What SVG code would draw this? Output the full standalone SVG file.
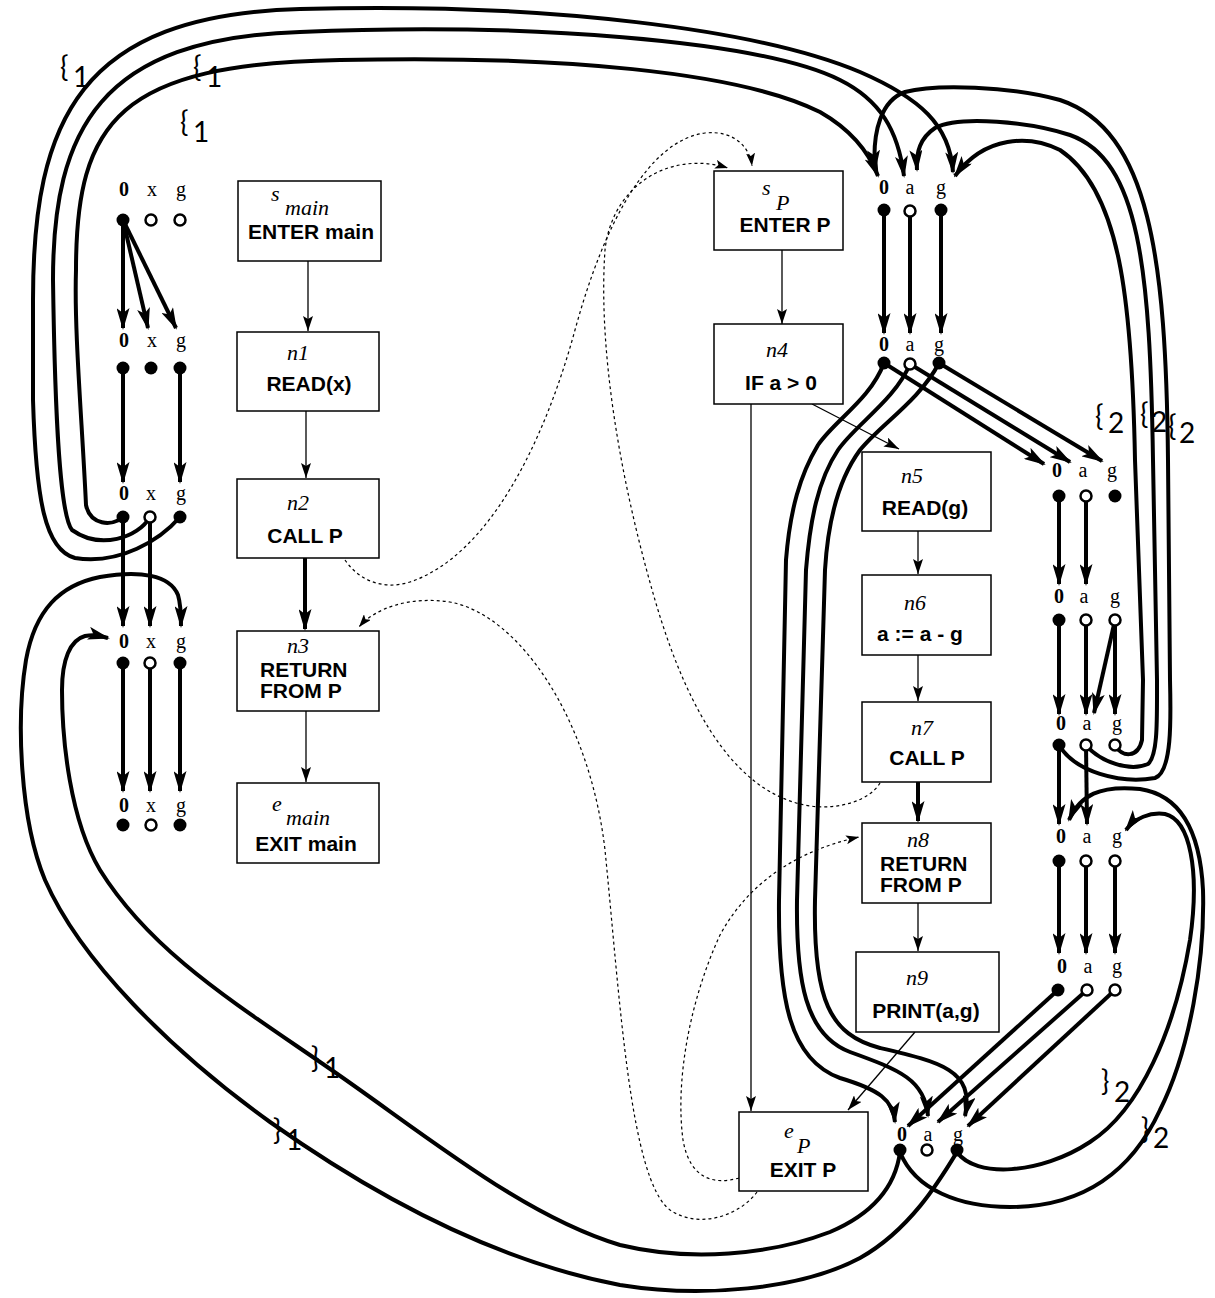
<svg xmlns="http://www.w3.org/2000/svg" width="1215" height="1298" viewBox="0 0 1215 1298">
<style>
.ex{fill:none;stroke:#000;stroke-width:4;marker-end:url(#ah)}
.fl{fill:none;stroke:#000;stroke-width:1.3;marker-end:url(#th)}
.fk{fill:none;stroke:#000;stroke-width:4;marker-end:url(#ah)}
.ds{fill:none;stroke:#000;stroke-width:1.2;stroke-dasharray:3,3;marker-end:url(#dh)}
.box{fill:#fff;stroke:#000;stroke-width:1.5}
.f{fill:#000}
.o{fill:#fff;stroke:#000;stroke-width:2.5}
.lb{font-family:"Liberation Serif",serif;font-size:20px;text-anchor:middle}
.lb0{font-family:"Liberation Serif",serif;font-size:20px;font-weight:bold;text-anchor:middle}
.it{font-family:"Liberation Serif",serif;font-style:italic;font-size:22px}
.bt{font-family:"Liberation Sans",Arial,sans-serif;font-weight:bold;font-size:21px}
.br{font-family:"Lato","Open Sans",sans-serif;font-size:28px}
</style>
<defs>
<marker id="ah" markerUnits="userSpaceOnUse" viewBox="0 0 22 13" refX="20" refY="6.5" markerWidth="22" markerHeight="13" orient="auto"><path d="M0,0 L22,6.5 L0,13 L5,6.5 z"/></marker>
<marker id="th" markerUnits="userSpaceOnUse" viewBox="0 0 15 10" refX="15" refY="5" markerWidth="15" markerHeight="10" orient="auto"><path d="M0,0 L15,5 L0,10 L3,5 z"/></marker>
<marker id="dh" markerUnits="userSpaceOnUse" viewBox="0 0 13 9" refX="13" refY="4.5" markerWidth="13" markerHeight="9" orient="auto"><path d="M0,0 L13,4.5 L0,9 L3,4.5 z"/></marker>
</defs>
<rect width="1215" height="1298" fill="#fff"/>
<g id="connectors">
<path class="fl" d="M308,261 L308,331"/>
<path class="fl" d="M306,411 L306,478"/>
<path class="fk" d="M305,558 L305,629"/>
<path class="fl" d="M306,711 L306,782"/>
<path class="fl" d="M782,250 L782,324"/>
<path class="fl" d="M812,404 L899,449"/>
<path class="fl" d="M751,404 L751,1111"/>
<path class="fl" d="M918,531 L918,574"/>
<path class="fl" d="M918,655 L918,701"/>
<path class="fk" d="M918,782 L918,821"/>
<path class="fl" d="M918,903 L918,951"/>
<path class="fl" d="M915,1032 L848,1110"/>
<path class="ds" d="M345,560 C360,582 385,590 410,582 C490,555 545,440 575,330 C605,220 650,140 705,133 C735,130 750,148 752,166"/>
<path class="ds" d="M880,783 C870,800 840,810 810,806 C740,795 690,720 655,600 C620,480 598,350 605,250 C612,185 670,150 728,168"/>
<path class="ds" d="M757,1192 C740,1215 700,1230 670,1210 C630,1180 620,1000 605,850 C590,720 520,615 450,602 C410,596 375,608 359,627"/>
<path class="ds" d="M739,1178 C715,1185 690,1180 683,1140 C675,1080 690,1000 720,935 C750,880 800,850 859,837"/>
<path class="ex" d="M123,220 L123,328"/>
<path class="ex" d="M123,220 L148,328"/>
<path class="ex" d="M123,220 L176,328"/>
<path class="ex" d="M123,368 L123,482"/>
<path class="ex" d="M180,368 L180,482"/>
<path class="ex" d="M123,517 L123,626"/>
<path class="ex" d="M150,517 L150,626"/>
<path class="ex" d="M123,663 L123,791"/>
<path class="ex" d="M150,663 L150,791"/>
<path class="ex" d="M180,663 L180,791"/>
<path class="ex" d="M884,210 L884,333"/>
<path class="ex" d="M910,211 L910,333"/>
<path class="ex" d="M941,210 L941,333"/>
<path class="ex" d="M884,363 L1044,464"/>
<path class="ex" d="M910,364 L1070,462"/>
<path class="ex" d="M939,363 L1102,461"/>
<path class="ex" d="M1059,496 L1059,584"/>
<path class="ex" d="M1086,496 L1086,584"/>
<path class="ex" d="M1059,620 L1059,714"/>
<path class="ex" d="M1086,620 L1086,714"/>
<path class="ex" d="M1115,620 L1115,714"/>
<path class="ex" d="M1115,620 L1094,713"/>
<path class="ex" d="M1059,745 L1059,824"/>
<path class="ex" d="M1086,745 L1087,824"/>
<path class="ex" d="M1059,861 L1059,953"/>
<path class="ex" d="M1086,861 L1086,953"/>
<path class="ex" d="M1115,861 L1115,953"/>
<path class="ex" d="M1058,990 L908,1126"/>
<path class="ex" d="M1087,990 L938,1122"/>
<path class="ex" d="M1115,990 L968,1126"/>
<path class="ex" d="M884,363 C870,400 835,420 818,445 C800,475 790,510 786,560 L779,900 C778,1000 790,1060 840,1078 C880,1090 893,1100 895,1122"/>
<path class="ex" d="M910,364 C895,400 855,425 838,450 C818,480 810,520 806,570 L797,900 C796,980 805,1035 850,1052 C900,1070 925,1080 928,1116"/>
<path class="ex" d="M939,363 C920,400 880,425 860,450 C838,480 828,520 825,570 L815,900 C813,1000 830,1035 880,1048 C940,1062 975,1070 965,1116"/>
<path class="ex" d="M123,517 C112,527 90,525 86,505 C82,420 74,330 76,270 C76,120 120,64 340,60 C560,55 740,72 820,112 C848,128 868,150 878,176"/>
<path class="ex" d="M150,517 C138,538 100,550 72,530 C60,515 55,420 53,280 C53,130 100,38 300,32 C520,22 760,40 840,80 C880,100 898,130 904,176"/>
<path class="ex" d="M180,517 C160,540 120,565 75,558 C45,550 36,500 33,400 L33,300 C33,120 80,15 300,9 C550,2 760,30 860,72 C920,98 950,125 953,172"/>
<path class="ex" d="M1059,745 C1075,772 1120,784 1155,778 C1172,772 1171,720 1170,680 L1168,460 C1166,260 1150,130 1060,100 C1010,86 935,84 905,92 C882,100 872,130 875,170"/>
<path class="ex" d="M1086,745 C1100,762 1130,772 1148,764 C1158,755 1157,720 1157,680 L1153,460 C1150,270 1140,160 1070,135 C1030,122 960,115 935,128 C920,138 916,152 917,170"/>
<path class="ex" d="M1115,745 C1122,758 1138,758 1142,740 L1143,680 L1135,460 C1132,300 1120,190 1060,150 C1030,135 985,135 955,176"/>
<path class="ex" d="M900,1152 C915,1190 960,1207 1010,1207 C1080,1207 1130,1175 1160,1110 C1190,1050 1205,960 1203,890 C1200,830 1180,795 1140,789 C1100,785 1080,795 1069,820"/>
<path class="ex" d="M957,1152 C975,1178 1040,1175 1090,1142 C1140,1110 1175,1030 1190,940 C1200,870 1190,820 1165,814 C1150,812 1135,818 1126,830"/>
<path class="ex" d="M900,1152 C895,1190 870,1215 830,1232 C770,1255 690,1262 620,1245 C520,1215 420,1130 320,1062 C230,1000 150,950 100,870 C70,820 62,740 62,690 C62,660 70,640 85,636 C95,634 100,636 108,638"/>
<path class="ex" d="M957,1152 C940,1180 910,1230 860,1258 C800,1290 700,1298 620,1285 C500,1262 380,1200 270,1122 C170,1050 80,960 45,880 C20,820 16,720 26,660 C35,610 60,585 100,577 C140,570 170,575 178,595 C181,605 181,615 181,626"/>
</g>
<g id="main-facts">
<g id="fact-smain">
<text class="lb0" x="124" y="196">0</text><text class="lb" x="152" y="196">x</text><text class="lb" x="181" y="196">g</text>
<circle class="f" cx="123" cy="220" r="6.5"/><circle class="o" cx="151" cy="220" r="5.5"/><circle class="o" cx="180" cy="220" r="5.5"/>
</g>
<g id="fact-n1">
<text class="lb0" x="124" y="347">0</text><text class="lb" x="152" y="347">x</text><text class="lb" x="181" y="347">g</text>
<circle class="f" cx="123" cy="368" r="6.5"/><circle class="f" cx="151" cy="368" r="6.5"/><circle class="f" cx="180" cy="368" r="6.5"/>
</g>
<g id="fact-n2">
<text class="lb0" x="124" y="500">0</text><text class="lb" x="151" y="500">x</text><text class="lb" x="181" y="500">g</text>
<circle class="f" cx="123" cy="517" r="6.5"/><circle class="o" cx="150" cy="517" r="5.5"/><circle class="f" cx="180" cy="517" r="6.5"/>
</g>
<g id="fact-n3">
<text class="lb0" x="124" y="648">0</text><text class="lb" x="151" y="648">x</text><text class="lb" x="181" y="648">g</text>
<circle class="f" cx="123" cy="663" r="6.5"/><circle class="o" cx="150" cy="663" r="5.5"/><circle class="f" cx="180" cy="663" r="6.5"/>
</g>
<g id="fact-emain">
<text class="lb0" x="124" y="812">0</text><text class="lb" x="151" y="812">x</text><text class="lb" x="181" y="812">g</text>
<circle class="f" cx="123" cy="825" r="6.5"/><circle class="o" cx="151" cy="825" r="5.5"/><circle class="f" cx="180" cy="825" r="6.5"/>
</g>
</g>
<g id="p-facts">
<g id="fact-sP">
<text class="lb0" x="884" y="194">0</text><text class="lb" x="910" y="194">a</text><text class="lb" x="941" y="194">g</text>
<circle class="f" cx="884" cy="210" r="6.5"/><circle class="o" cx="910" cy="211" r="5.5"/><circle class="f" cx="941" cy="210" r="6.5"/>
</g>
<g id="fact-n4">
<text class="lb0" x="884" y="351">0</text><text class="lb" x="910" y="351">a</text><text class="lb" x="939" y="351">g</text>
<circle class="f" cx="884" cy="363" r="6.5"/><circle class="o" cx="910" cy="364" r="5.5"/><circle class="f" cx="939" cy="363" r="6.5"/>
</g>
<g id="fact-n5">
<text class="lb0" x="1057" y="477">0</text><text class="lb" x="1083" y="477">a</text><text class="lb" x="1112" y="477">g</text>
<circle class="f" cx="1059" cy="496" r="6.5"/><circle class="o" cx="1086" cy="496" r="5.5"/><circle class="f" cx="1115" cy="496" r="6.5"/>
</g>
<g id="fact-n6">
<text class="lb0" x="1059" y="603">0</text><text class="lb" x="1084" y="603">a</text><text class="lb" x="1115" y="603">g</text>
<circle class="f" cx="1059" cy="620" r="6.5"/><circle class="o" cx="1086" cy="620" r="5.5"/><circle class="o" cx="1115" cy="620" r="5.5"/>
</g>
<g id="fact-n7">
<text class="lb0" x="1061" y="730">0</text><text class="lb" x="1087" y="730">a</text><text class="lb" x="1117" y="730">g</text>
<circle class="f" cx="1059" cy="745" r="6.5"/><circle class="o" cx="1086" cy="745" r="5.5"/><circle class="o" cx="1115" cy="745" r="5.5"/>
</g>
<g id="fact-n8">
<text class="lb0" x="1061" y="843">0</text><text class="lb" x="1087" y="843">a</text><text class="lb" x="1117" y="843">g</text>
<circle class="f" cx="1059" cy="861" r="6.5"/><circle class="o" cx="1086" cy="861" r="5.5"/><circle class="o" cx="1115" cy="861" r="5.5"/>
</g>
<g id="fact-n9">
<text class="lb0" x="1062" y="973">0</text><text class="lb" x="1088" y="973">a</text><text class="lb" x="1117" y="973">g</text>
<circle class="f" cx="1058" cy="990" r="6.5"/><circle class="o" cx="1087" cy="990" r="5.5"/><circle class="o" cx="1115" cy="990" r="5.5"/>
</g>
<g id="fact-eP">
<text class="lb0" x="902" y="1141">0</text><text class="lb" x="928" y="1141">a</text><text class="lb" x="958" y="1141">g</text>
<circle class="f" cx="900" cy="1150" r="6.5"/><circle class="o" cx="927" cy="1150" r="5.5"/><circle class="f" cx="957" cy="1150" r="6.5"/>
</g>
</g>
<g id="smain"><rect class="box" x="238" y="181" width="143" height="80"/><text class="it" x="271" y="201">s</text><text class="it" x="285" y="215">main</text><text class="bt" x="311" y="239" text-anchor="middle">ENTER main</text></g>
<g id="n1"><rect class="box" x="237" y="332" width="142" height="79"/><text class="it" x="287" y="360">n1</text><text class="bt" x="309" y="391" text-anchor="middle">READ(x)</text></g>
<g id="n2"><rect class="box" x="237" y="479" width="142" height="79"/><text class="it" x="287" y="510">n2</text><text class="bt" x="305" y="543" text-anchor="middle">CALL P</text></g>
<g id="n3"><rect class="box" x="237" y="631" width="142" height="80"/><text class="it" x="287" y="653">n3</text><text class="bt" x="260" y="677">RETURN</text><text class="bt" x="260" y="698">FROM P</text></g>
<g id="emain"><rect class="box" x="237" y="783" width="142" height="80"/><text class="it" x="272" y="811">e</text><text class="it" x="286" y="825">main</text><text class="bt" x="306" y="851" text-anchor="middle">EXIT main</text></g>
<g id="sP"><rect class="box" x="714" y="171" width="129" height="79"/><text class="it" x="762" y="195">s</text><text class="it" x="776" y="210">P</text><text class="bt" x="785" y="232" text-anchor="middle">ENTER P</text></g>
<g id="n4"><rect class="box" x="714" y="324" width="129" height="80"/><text class="it" x="766" y="357">n4</text><text class="bt" x="781" y="390" text-anchor="middle">IF a &gt; 0</text></g>
<g id="n5"><rect class="box" x="862" y="452" width="129" height="79"/><text class="it" x="901" y="483">n5</text><text class="bt" x="925" y="515" text-anchor="middle">READ(g)</text></g>
<g id="n6"><rect class="box" x="862" y="575" width="129" height="80"/><text class="it" x="904" y="610">n6</text><text class="bt" x="920" y="641" text-anchor="middle">a := a - g</text></g>
<g id="n7"><rect class="box" x="862" y="702" width="129" height="80"/><text class="it" x="911" y="735">n7</text><text class="bt" x="927" y="765" text-anchor="middle">CALL P</text></g>
<g id="n8"><rect class="box" x="862" y="823" width="129" height="80"/><text class="it" x="907" y="847">n8</text><text class="bt" x="880" y="871">RETURN</text><text class="bt" x="880" y="892">FROM P</text></g>
<g id="n9"><rect class="box" x="856" y="952" width="143" height="80"/><text class="it" x="906" y="985">n9</text><text class="bt" x="926" y="1018" text-anchor="middle">PRINT(a,g)</text></g>
<g id="eP"><rect class="box" x="739" y="1112" width="129" height="79"/><text class="it" x="784" y="1138">e</text><text class="it" x="797" y="1153">P</text><text class="bt" x="803" y="1177" text-anchor="middle">EXIT P</text></g>
<g id="labels">
<text class="br" x="60" y="77">{</text><text class="br" x="73" y="87">1</text>
<text class="br" x="193" y="77">{</text><text class="br" x="206" y="87">1</text>
<text class="br" x="180" y="132">{</text><text class="br" x="193" y="142">1</text>
<text class="br" x="1095" y="426">{</text><text class="br" x="1108" y="433">2</text>
<text class="br" x="1140" y="424">{</text><text class="br" x="1151" y="432">2</text>
<text class="br" x="1168" y="436">{</text><text class="br" x="1179" y="443">2</text>
<text class="br" x="1101" y="1091">}</text><text class="br" x="1114" y="1102">2</text>
<text class="br" x="1141" y="1139">}</text><text class="br" x="1153" y="1148">2</text>
<text class="br" x="311" y="1068">}</text><text class="br" x="324" y="1078">1</text>
<text class="br" x="273" y="1140">}</text><text class="br" x="286" y="1150">1</text>
</g>
</svg>
